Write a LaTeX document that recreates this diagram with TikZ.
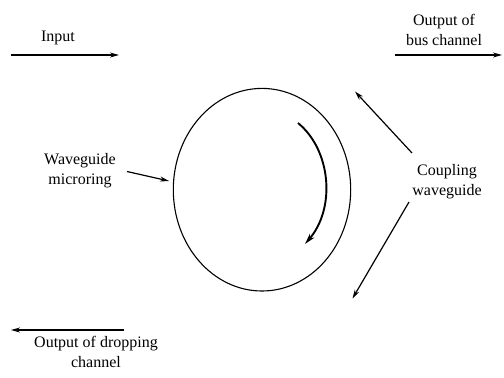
\documentclass[tikz,border=0pt]{standalone}
\usepackage{fontspec}
\setmainfont{Liberation Serif}
\usetikzlibrary{arrows.meta,shapes.geometric}
\begin{document}
\begin{tikzpicture}[x=1pt,y=-1pt,
  lbl/.style={font=\fontsize{16}{20}\selectfont, align=center, inner sep=0pt, anchor=base},
  arr/.style={line width=1.2pt, -{Stealth[length=9pt,width=5pt]}},
  ringarr/.style={line width=1.9pt, -{Stealth[length=11pt,width=6pt]}}]
\useasboundingbox (0,0) rectangle (504,378);
% ring
\node (ring) [ellipse, draw, line width=1.1pt, minimum width=177.4pt, minimum height=202.6pt, inner sep=0pt] at (262,189.7) {};
% labels (base anchor = baseline of last line)
\node (input) [lbl] at (58,41) {Input};
\node (busout) [lbl] at (444,45) {Output of\\bus channel};
\node (micro) [lbl] at (80,184) {Waveguide\\microring};
\node (coup) [lbl] at (447,195) {Coupling\\waveguide};
\node (drop) [lbl] at (96,367) {Output of dropping\\channel};
% arrow end points
\coordinate (inA) at (11,55);
\coordinate (inB) at (119,55);
\coordinate (busA) at (395,55);
\coordinate (busB) at (502,55);
\coordinate (dropA) at (124,330);
\coordinate (dropB) at (11,330);
\coordinate (microA) at (127,171.5);
\coordinate (microB) at (169,181);
\coordinate (coupUA) at (412,153);
\coordinate (coupUB) at (355,91.5);
\coordinate (coupLA) at (409,202);
\coordinate (coupLB) at (352.5,298.5);
\coordinate (cwA) at (298,123);
\coordinate (cwB) at (305,244);
% arrows
\draw[arr] (inA) -- (inB);
\draw[arr] (busA) -- (busB);
\draw[arr] (dropA) -- (dropB);
\draw[arr] (microA) -- (microB);
\draw[arr] (coupUA) -- (coupUB);
\draw[arr] (coupLA) -- (coupLB);
\draw[ringarr] (cwA) .. controls (331,150) and (336,208) .. (cwB);
\end{tikzpicture}
\end{document}
